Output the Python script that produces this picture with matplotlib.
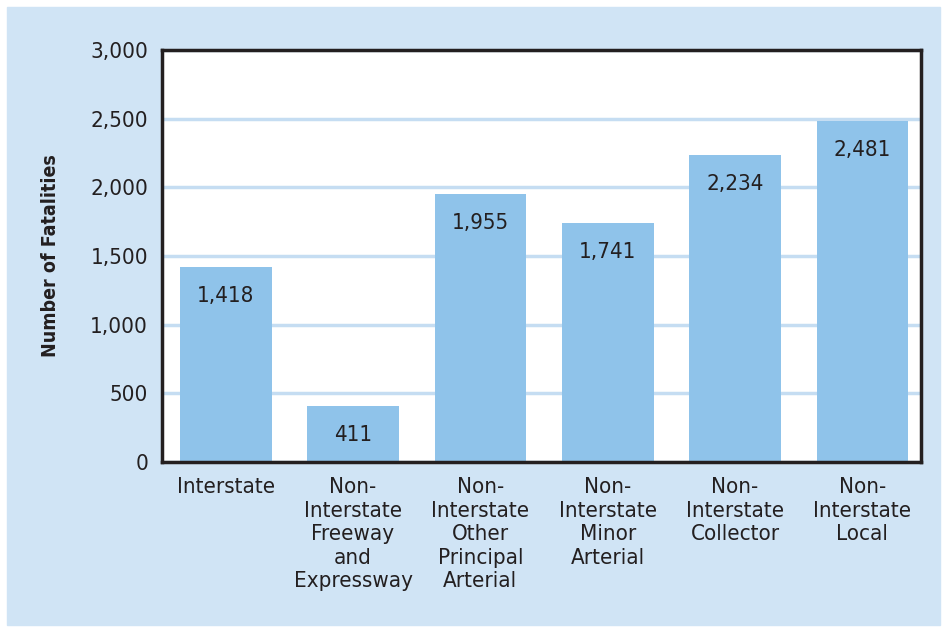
import matplotlib.pyplot as plt

categories = ['Interstate', 'Non-\nInterstate\nFreeway\nand\nExpressway',
              'Non-\nInterstate\nOther\nPrincipal\nArterial',
              'Non-\nInterstate\nMinor\nArterial', 'Non-\nInterstate\nCollector',
              'Non-\nInterstate\nLocal']
fatalities = [1418, 411, 1955, 1741, 2234, 2481]
yticks = [0, 500, 1000, 1500, 2000, 2500, 3000]

panel = '#d0e4f5'
barcol = '#8fc3ea'
gridcol = '#c5ddf2'
txt = '#231f20'

plt.rcParams['font.family'] = ['DejaVu Sans']
plt.rcParams['font.stretch'] = 'condensed'

fig = plt.figure(figsize=(9.45, 6.27), dpi=100, facecolor='white')
# light blue panel behind everything
fig.patches.append(plt.Rectangle((7 / 945, 1 - 625 / 627), 933 / 945, 618 / 627,
                                 transform=fig.transFigure, color=panel, zorder=-1))

ax = fig.add_axes([162 / 945, 1 - 462 / 627, 759 / 945, 412 / 627])
ax.set_zorder(1)
ax.set_facecolor('white')

x = list(range(len(categories)))
bars = ax.bar(x, fatalities, width=0.72, color=barcol, zorder=2)
for xi, v in zip(x, fatalities):
    ax.annotate(f'{v:,}', (xi, v), xytext=(0, -21), textcoords='offset points',
                ha='center', va='center', fontsize=16, color=txt, zorder=3)

ax.set_xlim(-0.5, 5.46)
ax.set_ylim(0, 3000)
ax.set_yticks(yticks)
ax.set_yticklabels([f'{t:,}' for t in yticks])
ax.yaxis.grid(True, color=gridcol, linewidth=2.5, zorder=1)
ax.set_axisbelow(True)
ax.set_xticks(x)
ax.set_xticklabels(categories, linespacing=1.22)
ax.tick_params(axis='both', length=0, labelsize=16, labelcolor=txt)
ax.tick_params(axis='y', pad=10)
ax.tick_params(axis='x', pad=11)

for s in ax.spines.values():
    s.set_linewidth(2.5)
    s.set_color(txt)

ax.set_ylabel('Number of Fatalities', fontsize=14, fontweight='bold', color=txt, labelpad=22)

fig.savefig('out.png', dpi=100, facecolor='white')
